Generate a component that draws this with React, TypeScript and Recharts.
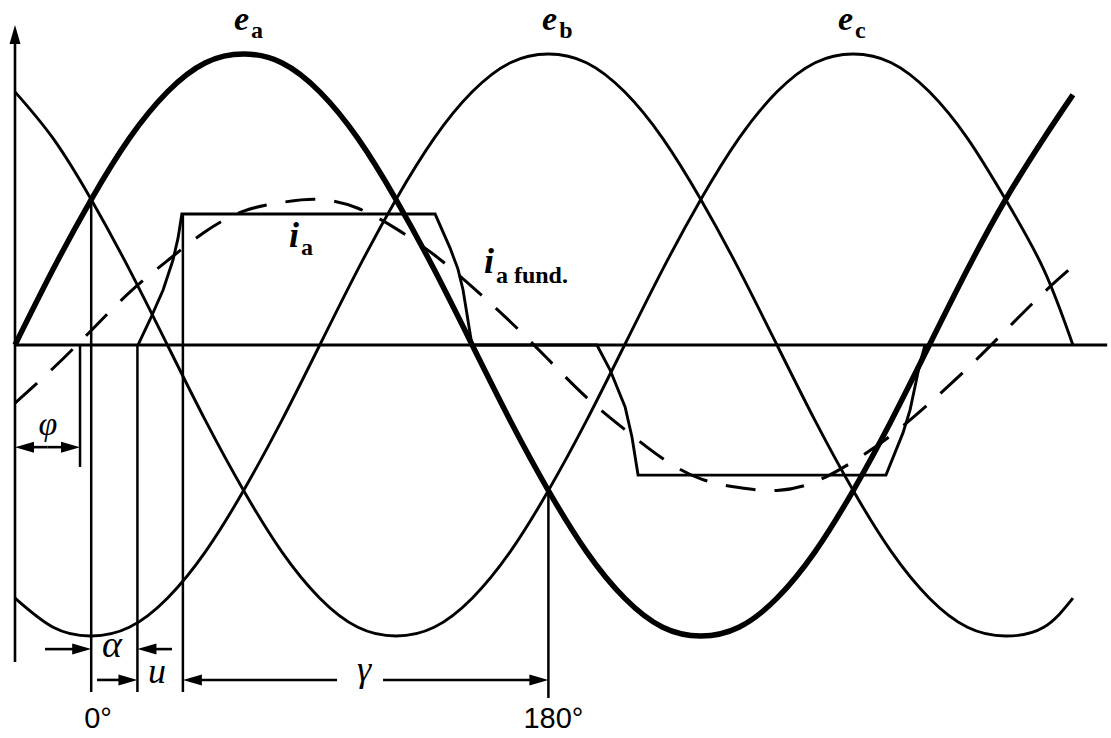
import { ComposedChart, Line, XAxis, YAxis, ReferenceLine, ReferenceDot } from 'recharts'

// electrical angle of phase a (deg) at which the emfs are sampled
const angles = [
  0, 15, 30, 45, 60, 75, 90, 105, 120, 135, 150, 165, 180, 195, 210, 225, 240, 255, 270, 285, 300, 315,
  330, 345, 360, 375, 390, 405, 416.5,
]

// phase emfs, per unit of peak
const eA = [
  0, 0.26, 0.5, 0.71, 0.87, 0.97, 1, 0.97, 0.87, 0.71, 0.5, 0.26, 0, -0.26, -0.5, -0.71, -0.87, -0.97, -1,
  -0.97, -0.87, -0.71, -0.5, -0.26, 0, 0.26, 0.5, 0.71, 0.86,
]
const eB = [
  -0.87, -0.97, -1, -0.97, -0.87, -0.71, -0.5, -0.26, 0, 0.26, 0.5, 0.71, 0.87, 0.97, 1, 0.97, 0.87, 0.71,
  0.5, 0.26, 0, -0.26, -0.5, -0.71, -0.87, -0.97, -1, -0.97, -0.87,
]
const eC = [
  0.87, 0.71, 0.5, 0.26, 0, -0.26, -0.5, -0.71, -0.87, -0.97, -1, -0.97, -0.87, -0.71, -0.5, -0.26, 0, 0.26,
  0.5, 0.71, 0.87, 0.97, 1, 0.97, 0.87, 0.71, 0.5, 0.26, 0,
]

// fundamental component of the phase a current
const iaFund = [
  -0.2, -0.08, 0.05, 0.18, 0.29, 0.39, 0.46, 0.49, 0.5, 0.47, 0.4, 0.31, 0.2, 0.08, -0.05, -0.18, -0.29,
  -0.39, -0.46, -0.49, -0.5, -0.47, -0.4, -0.31, -0.2, -0.08, 0.05, 0.18, 0.27,
]

// phase a current with commutation overlap
const iaAngles = [
  48.4, 53.1, 58.3, 62.2, 64.2, 65.7, 165.4, 171.3, 174.4, 176.4, 178.0, 179.9, 229.1, 234.3, 240.2, 242.9,
  245.3, 342.9, 349.6, 352.4, 356.3, 358.3,
]
const iaValues = [
  0, 0.086, 0.189, 0.292, 0.368, 0.45, 0.45, 0.333, 0.261, 0.189, 0.103, 0, 0, -0.086, -0.213, -0.316,
  -0.447, -0.447, -0.302, -0.223, -0.062, 0,
]

const degreeMarks = [30, 210]
const degreeLabels = ['0°', '180°']

const toPoints = (xs: number[], ys: number[]) => xs.map((x, i) => ({ x, y: ys[i] }))

const seriesA = toPoints(angles, eA)
const seriesB = toPoints(angles, eB)
const seriesC = toPoints(angles, eC)
const seriesFund = toPoints(angles, iaFund)
const seriesIa = toPoints(iaAngles, iaValues)

const INK = '#000'
const SERIF = '"Liberation Serif", "DejaVu Serif", serif'
const SANS = '"Liberation Sans", Arial, sans-serif'

// straight segment ending in a filled arrowhead at (x2, y2)
function ArrowLine(props: any) {
  const { x1, y1, x2, y2 } = props
  const dx = x2 - x1
  const dy = y2 - y1
  const len = Math.hypot(dx, dy) || 1
  const ux = dx / len
  const uy = dy / len
  const hl = 19
  const hw = 5.5
  const bx = x2 - ux * hl
  const by = y2 - uy * hl
  return (
    <g>
      <line x1={x1} y1={y1} x2={bx + ux * 2} y2={by + uy * 2} stroke={INK} strokeWidth={2.6} />
      <polygon
        points={`${x2},${y2} ${bx - uy * hw},${by + ux * hw} ${bx + uy * hw},${by - ux * hw}`}
        fill={INK}
      />
    </g>
  )
}

function symbol(main: string, sub: string, mainSize: number, subSize: number, subDy: number) {
  return (p: any) => (
    <text x={p.cx} y={p.cy} fontFamily={SERIF} fill={INK}>
      <tspan fontStyle="italic" fontWeight="bold" fontSize={mainSize}>
        {main}
      </tspan>
      <tspan fontWeight="bold" fontSize={subSize} dx={2} dy={subDy}>
        {sub}
      </tspan>
    </text>
  )
}

function greek(ch: string, size: number) {
  return (p: any) => (
    <text x={p.cx} y={p.cy} fontFamily={SERIF} fontStyle="italic" fontSize={size} textAnchor="middle" fill={INK}>
      {ch}
    </text>
  )
}

function degree(label: string, dx: number) {
  return (p: any) => (
    <text x={p.cx + dx} y={p.cy} fontFamily={SANS} fontSize={29} fill={INK}>
      {label}
    </text>
  )
}

const arrow = (p: any) => <ArrowLine {...p} />

export default function App() {
  const lineBase = { type: 'natural' as const, dataKey: 'y', dot: false, activeDot: false, isAnimationActive: false, stroke: INK }
  const guide = { stroke: INK, strokeWidth: 2.5 }
  return (
    <div style={{ position: 'absolute', left: 0, top: 0, background: '#fff' }}>
      <ComposedChart width={1111} height={738} margin={{ top: 0, right: 0, bottom: 0, left: 0 }}>
        <XAxis type="number" dataKey="x" domain={[-5.906, 431.5]} allowDataOverflow hide />
        <YAxis type="number" domain={[-1.3505, 1.1856]} allowDataOverflow hide />

        {/* axes */}
        <ReferenceLine segment={[{ x: 0, y: 0 }, { x: 430, y: 0 }]} stroke={INK} strokeWidth={3} />
        <ReferenceLine segment={[{ x: 0, y: -1.089 }, { x: 0, y: 1.0997 }]} shape={arrow} />

        {/* construction lines */}
        <ReferenceLine segment={[{ x: 30, y: 0.5 }, { x: 30, y: -1.192 }]} {...guide} />
        <ReferenceLine segment={[{ x: 48.2, y: 0 }, { x: 48.2, y: -1.192 }]} {...guide} />
        <ReferenceLine segment={[{ x: 66.1, y: 0.45 }, { x: 66.1, y: -1.192 }]} {...guide} />
        <ReferenceLine segment={[{ x: 210, y: -0.5 }, { x: 210, y: -1.213 }]} {...guide} />
        <ReferenceLine segment={[{ x: 25.6, y: 0 }, { x: 25.6, y: -0.419 }]} {...guide} />

        {/* dimension arrows */}
        <ReferenceLine segment={[{ x: 12.8, y: -0.351 }, { x: 0, y: -0.351 }]} shape={arrow} />
        <ReferenceLine segment={[{ x: 12.8, y: -0.351 }, { x: 25.6, y: -0.351 }]} shape={arrow} />
        <ReferenceLine segment={[{ x: 11.8, y: -1.045 }, { x: 30, y: -1.045 }]} shape={arrow} />
        <ReferenceLine segment={[{ x: 61.8, y: -1.045 }, { x: 48.2, y: -1.045 }]} shape={arrow} />
        <ReferenceLine segment={[{ x: 32.3, y: -1.151 }, { x: 48.2, y: -1.151 }]} shape={arrow} />
        <ReferenceLine segment={[{ x: 126.8, y: -1.151 }, { x: 66.1, y: -1.151 }]} shape={arrow} />
        <ReferenceLine segment={[{ x: 144.9, y: -1.151 }, { x: 210, y: -1.151 }]} shape={arrow} />

        <Line {...lineBase} data={seriesB} strokeWidth={2.9} />
        <Line {...lineBase} data={seriesC} strokeWidth={2.9} />
        <Line {...lineBase} data={seriesFund} strokeWidth={3} strokeDasharray="30 19" />
        <Line {...lineBase} type="linear" data={seriesIa} strokeWidth={2.9} strokeLinejoin="miter" />
        <Line {...lineBase} data={seriesA} strokeWidth={5.5} />

        {/* labels */}
        <ReferenceDot x={86.2} y={1.082} shape={symbol('e', 'a', 34, 24, 8)} />
        <ReferenceDot x={207.5} y={1.082} shape={symbol('e', 'b', 34, 24, 8)} />
        <ReferenceDot x={324} y={1.082} shape={symbol('e', 'c', 34, 24, 8)} />
        <ReferenceDot x={107.9} y={0.337} shape={symbol('i', 'a', 36, 24, 8)} />
        <ReferenceDot x={184.6} y={0.247} shape={symbol('i', 'a fund.', 36, 24, 10)} />
        <ReferenceDot x={13} y={-0.309} shape={greek('φ', 34)} />
        <ReferenceDot x={38.2} y={-1.072} shape={greek('α', 38)} />
        <ReferenceDot x={55.9} y={-1.162} shape={greek('u', 36)} />
        <ReferenceDot x={137.4} y={-1.155} shape={greek('γ', 36)} />
        {degreeMarks.map((m, i) => (
          <ReferenceDot key={m} x={m} y={-1.316} shape={degree(degreeLabels[i], i === 0 ? -7 : -25)} />
        ))}
      </ComposedChart>
    </div>
  )
}
